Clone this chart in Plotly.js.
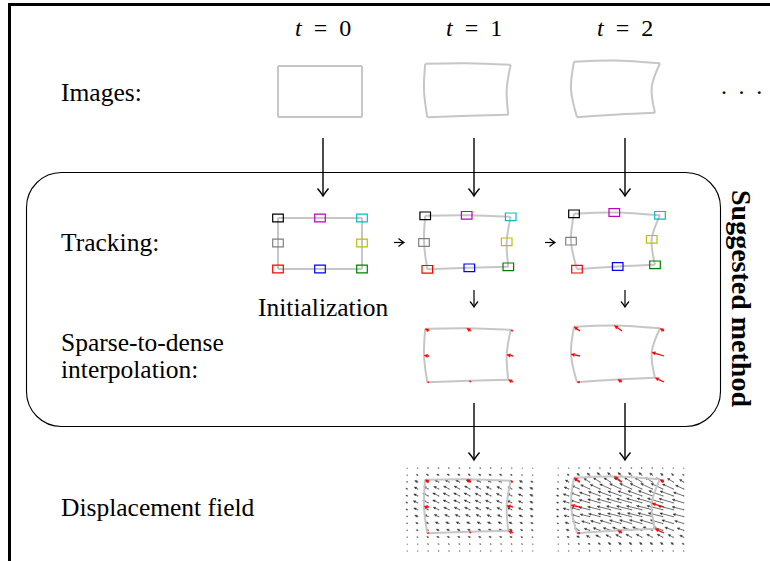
<!DOCTYPE html>
<html><head><meta charset="utf-8">
<script src="https://cdn.plot.ly/plotly-3.0.1.min.js"></script>
<style>html,body{margin:0;padding:0;background:#fff}#chart{width:770px;height:561px}</style>
</head><body><div id="chart"></div>
<script>
// ---------------- data ----------------
const timeLabels = ['t = 0', 't = 1', 't = 2'];
const rowLabels = ['Images:', 'Tracking:', 'Sparse-to-dense', 'interpolation:', 'Displacement field'];
const initLabel = 'Initialization';
const methodLabel = 'Suggested method';
// 8 tracked points (order: TL, TM, TR, MR, BR, BM, BL, ML), image px, relative to initial top-left corner
const pointColors = ['#000000', '#bf00bf', '#00bfbf', '#bfbf00', '#008000', '#0000ff', '#ff0000', '#808080'];
const frame0X = [0, 42, 84, 84, 84, 42, 0, 0];
const frame0Y = [0, 0, 0, 25, 51, 51, 51, 25];
const frame1X = [-3.8, 37.7, 81.7, 77.7, 79.3, 40.3, -1.7, -5.0];
const frame1Y = [-2.2, -2.7, -1.2, 23.8, 48.8, 49.8, 51.3, 24.5];
const frame2X = [-6.0, 34.3, 80.0, 71.7, 75.0, 37.7, -3.0, -9.0];
const frame2Y = [-4.2, -5.5, -2.7, 21.3, 46.8, 48.5, 51.2, 23.2];
// dense displacement field sample grid (image px)
const fieldCols = [-21.7, -11.3, -0.8, 9.7, 20.1, 30.6, 41.0, 51.5, 61.9, 72.4, 82.8, 93.3, 103.7];
const fieldRows = [-13.7, -6.8, 0.1, 7.0, 13.9, 20.8, 27.7, 34.6, 41.5, 48.4, 55.3, 62.2, 69.1];
// field at t = 1 (dx, dy in px, rows top->bottom, cols left->right)
const fieldDx1 = [
 [0,-.5,-1,-1,-1,-1,-1,-1,-1,-.5,-.5,0,0],
 [-.5,-1.5,-2,-2,-2,-2,-2,-2,-2,-2,-1.5,-1,-.5],
 [-1,-3,-3.5,-4,-4,-4,-4,-4,-3.5,-3.5,-3,-3,-2],
 [-1.5,-3.5,-4.5,-5,-5.5,-5.5,-5.5,-5,-4.5,-4.5,-4,-3.5,-3],
 [-1.5,-4,-5.5,-6,-6,-6,-6,-5.5,-5.5,-5,-4.5,-4,-3],
 [-1.5,-4.5,-5.5,-6,-6,-6,-6,-5.5,-5.5,-5,-4.5,-4,-3],
 [-1.5,-4,-5,-5.5,-5.5,-5.5,-5.5,-5,-5,-4.5,-4.5,-4,-3],
 [-1,-3,-4,-4.5,-4.5,-4.5,-4.5,-4.5,-4,-4,-4,-3.5,-2.5],
 [-1,-2,-3,-3.5,-3.5,-3.5,-3.5,-3.5,-3.5,-3.5,-3,-2.5,-2],
 [-.5,-1.5,-2,-2.5,-2.5,-2.5,-2.5,-2.5,-2.5,-2.5,-2.5,-2,-1.5],
 [-.5,-1,-1.5,-2,-2,-2,-2,-2,-2,-2,-2,-1.5,-1],
 [0,-.5,-1,-1,-1,-1,-1,-1,-1,-1,-1,-1,-.5],
 [0,0,-.5,-.5,-.5,-.5,-.5,-.5,-.5,-.5,-.5,0,0]
];
const fieldDy1 = [
 [0,-.3,-.5,-.5,-.5,-.5,-.5,-.5,-.5,-.3,-.3,0,0],
 [-.3,-.8,-1,-1.2,-1.2,-1.2,-1.2,-1.2,-1,-1,-.8,-.5,-.3],
 [-.5,-1.5,-2,-2.2,-2.2,-2.2,-2.2,-2.2,-2,-2,-1.8,-1.5,-1],
 [-.7,-2,-2.5,-2.7,-3,-3,-3,-2.7,-2.5,-2.5,-2.2,-2,-1.5],
 [-.7,-2,-2.7,-3,-3,-3,-3,-2.7,-2.7,-2.5,-2.3,-2,-1.5],
 [-.7,-2,-2.5,-2.8,-2.8,-2.8,-2.8,-2.6,-2.6,-2.4,-2.2,-2,-1.5],
 [-.6,-1.8,-2.2,-2.5,-2.5,-2.5,-2.5,-2.3,-2.3,-2.1,-2.1,-1.9,-1.5],
 [-.4,-1.4,-1.8,-2,-2,-2,-2,-2,-1.8,-1.8,-1.8,-1.6,-1.2],
 [-.4,-1,-1.4,-1.6,-1.6,-1.6,-1.6,-1.6,-1.6,-1.6,-1.4,-1.2,-1],
 [-.2,-.6,-1,-1.2,-1.2,-1.2,-1.2,-1.2,-1.2,-1.2,-1.2,-1,-.8],
 [-.2,-.4,-.6,-.8,-.8,-.8,-.8,-.8,-.8,-.8,-.8,-.6,-.4],
 [0,-.2,-.4,-.4,-.4,-.4,-.4,-.4,-.4,-.4,-.4,-.4,-.2],
 [0,0,-.2,-.2,-.2,-.2,-.2,-.2,-.2,-.2,-.2,0,0]
];
// field at t = 2
const fieldDx2 = [
 [0,-.4,-.8,-.8,-.8,-.8,-.8,-.8,-.8,-.8,-.4,-.4,0],
 [-.4,-1.5,-2.3,-2.7,-3.1,-3.1,-3.1,-3.1,-3.1,-2.7,-2.3,-1.9,-1.2],
 [-.8,-3.4,-5,-5.9,-6.7,-6.7,-7.1,-7.1,-7.1,-7.1,-6.7,-5.9,-4.2],
 [-1.4,-4.6,-7.3,-9.1,-10,-10.9,-11.4,-11.8,-11.8,-11.8,-11.8,-10.9,-8.2],
 [-1.9,-5.6,-8.5,-10.3,-11.8,-12.7,-13.2,-13.6,-14.1,-14.1,-14.1,-13.2,-10.3],
 [-1.9,-5.8,-8.6,-10.6,-12.5,-13.4,-14.4,-14.9,-15.4,-15.4,-15.4,-14.4,-11.5],
 [-1.9,-5.8,-8.7,-10.7,-12.6,-13.6,-14.6,-15,-15.5,-16,-16,-15,-11.6],
 [-1.9,-4.9,-7.8,-9.7,-11.6,-12.6,-13.6,-14.1,-14.6,-14.6,-14.6,-13.6,-10.7],
 [-1.4,-3.8,-6.7,-8.2,-9.6,-10.6,-11.5,-12,-12.5,-12.5,-12.5,-11.5,-9.1],
 [-.9,-2.8,-4.7,-5.6,-7,-7.5,-8.5,-8.9,-9.4,-9.4,-9.4,-8.5,-6.6],
 [-.9,-1.8,-2.6,-3.5,-4.4,-4.8,-5.3,-5.7,-5.7,-5.7,-5.7,-5.3,-4],
 [-.4,-.8,-1.2,-1.6,-2.1,-2.5,-2.5,-2.5,-2.5,-2.5,-2.5,-2.5,-1.6],
 [0,-.4,-.4,-.8,-.8,-.8,-.8,-.8,-.8,-.8,-.8,-.4,-.4]
];
const fieldDy2 = [
 [0,-.3,-.6,-.6,-.6,-.6,-.6,-.6,-.6,-.6,-.3,-.3,0],
 [-.3,-1.3,-1.9,-2.2,-2.6,-2.6,-2.6,-2.6,-2.6,-2.2,-1.9,-1.6,-1],
 [-.5,-2.2,-3.2,-3.8,-4.3,-4.3,-4.6,-4.6,-4.6,-4.6,-4.3,-3.8,-2.7],
 [-.6,-2.1,-3.4,-4.2,-4.6,-5,-5.3,-5.5,-5.5,-5.5,-5.5,-5,-3.8],
 [-.7,-2,-3.1,-3.7,-4.3,-4.6,-4.8,-4.9,-5.1,-5.1,-5.1,-4.8,-3.7],
 [-.6,-1.7,-2.5,-3.1,-3.6,-3.9,-4.2,-4.3,-4.5,-4.5,-4.5,-4.2,-3.4],
 [-.5,-1.4,-2.2,-2.6,-3.1,-3.4,-3.6,-3.7,-3.8,-4,-4,-3.7,-2.9],
 [-.5,-1.2,-1.9,-2.4,-2.9,-3.1,-3.4,-3.5,-3.6,-3.6,-3.6,-3.4,-2.6],
 [-.4,-1.1,-2,-2.4,-2.8,-3.1,-3.4,-3.5,-3.6,-3.6,-3.6,-3.4,-2.7],
 [-.3,-1,-1.7,-2,-2.6,-2.7,-3.1,-3.2,-3.4,-3.4,-3.4,-3.1,-2.4],
 [-.5,-.9,-1.4,-1.9,-2.4,-2.6,-2.8,-3.1,-3.1,-3.1,-3.1,-2.8,-2.1],
 [-.3,-.6,-.9,-1.1,-1.4,-1.7,-1.7,-1.7,-1.7,-1.7,-1.7,-1.7,-1.1],
 [0,-.3,-.3,-.6,-.6,-.6,-.6,-.6,-.6,-.6,-.6,-.3,-.3]
];

// ---------------- layout constants ----------------
const W = 770, H = 561;
const FONT = '"Liberation Serif", "Times New Roman", serif';
const frames = [[frame0X, frame0Y], [frame1X, frame1Y], [frame2X, frame2Y]];
const fields = {1: [fieldDx1, fieldDy1], 2: [fieldDx2, fieldDy2]};
const colX = [323, 474, 625];
const originX = [278, 429, 580];
const rowOriginY = {images: 66, tracking: 218, interp: 331, field: 482};
const panels = [
  {kind: 'images', f: 0}, {kind: 'images', f: 1}, {kind: 'images', f: 2},
  {kind: 'tracking', f: 0}, {kind: 'tracking', f: 1}, {kind: 'tracking', f: 2},
  {kind: 'interp', f: 1}, {kind: 'interp', f: 2},
  {kind: 'field', f: 1}, {kind: 'field', f: 2}
];
const PX = [-30, 115], PY = [-20, 75];   // panel extent: 1 unit = 1 px
const edges = [[0, 1, 2], [2, 3, 4], [4, 5, 6], [6, 7, 0]];

const traces = [{x: [0], y: [0], xaxis: 'x', yaxis: 'y', mode: 'markers', marker: {opacity: 0}, hoverinfo: 'skip'}];
const shapes = [];
const layout = {
  width: W, height: H, margin: {l: 0, r: 0, t: 0, b: 0},
  paper_bgcolor: '#ffffff', plot_bgcolor: 'rgba(0,0,0,0)', showlegend: false,
  xaxis: {range: [0, W], domain: [0, 1], visible: false, fixedrange: true},
  yaxis: {range: [H, 0], domain: [0, 1], visible: false, fixedrange: true}
};

// quiver-style arrows: shafts as lines, heads as small filled triangles
function arrowTraces(x0, y0, x1, y1, ax, color, width, headLen, headHalf) {
  const sx = [], sy = [], hx = [], hy = [];
  for (let i = 0; i < x0.length; i++) {
    const dx = x1[i] - x0[i], dy = y1[i] - y0[i], L = Math.hypot(dx, dy);
    if (L < 0.35) continue;
    const ux = dx / L, uy = dy / L;
    const hl = Math.min(headLen, 0.75 * L), hw = headHalf * hl / headLen;
    const bx = x1[i] - ux * hl, by = y1[i] - uy * hl;
    sx.push(x0[i], bx, null); sy.push(y0[i], by, null);
    hx.push(x1[i], bx - uy * hw, bx + uy * hw, x1[i], null);
    hy.push(y1[i], by + ux * hw, by - ux * hw, y1[i], null);
  }
  return [
    {x: sx, y: sy, xaxis: 'x' + ax, yaxis: 'y' + ax, mode: 'lines', hoverinfo: 'skip', line: {color: color, width: width}},
    {x: hx, y: hy, xaxis: 'x' + ax, yaxis: 'y' + ax, mode: 'lines', hoverinfo: 'skip', fill: 'toself', fillcolor: color,
      line: {color: color, width: 0.4}}
  ];
}

panels.forEach((p, k) => {
  const ax = k + 2;
  const ox = originX[p.f], oy = rowOriginY[p.kind];
  layout['xaxis' + ax] = {domain: [(ox + PX[0]) / W, (ox + PX[1]) / W], range: PX, visible: false, fixedrange: true, anchor: 'y' + ax};
  layout['yaxis' + ax] = {domain: [1 - (oy + PY[1]) / H, 1 - (oy + PY[0]) / H], range: [PY[1], PY[0]], visible: false, fixedrange: true, anchor: 'x' + ax};
  const [fx, fy] = frames[p.f];

  if (p.kind === 'field') {
    const [dX, dY] = fields[p.f];
    const tx = [], ty = [], hx = [], hy = [];
    fieldRows.forEach((ry, j) => fieldCols.forEach((cx, i) => {
      tx.push(cx); ty.push(ry); hx.push(cx + dX[j][i]); hy.push(ry + dY[j][i]);
    }));
    traces.push({x: tx, y: ty, xaxis: 'x' + ax, yaxis: 'y' + ax, mode: 'markers', hoverinfo: 'skip',
      marker: {size: 1.6, color: '#9a9a9a'}});
    arrowTraces(tx, ty, hx, hy, ax, '#303030', 0.7, 2.4, 1.1).forEach(t => traces.push(t));
  }

  // outline: each edge a smooth curve through corner - mid - corner
  const lx = [], ly = [];
  edges.forEach(e => { e.forEach(i => { lx.push(fx[i]); ly.push(fy[i]); }); lx.push(null); ly.push(null); });
  traces.push({x: lx, y: ly, xaxis: 'x' + ax, yaxis: 'y' + ax, mode: 'lines', hoverinfo: 'skip',
    line: {color: '#c6c6c6', width: 2, shape: 'spline', smoothing: 1}, connectgaps: false});

  if (p.kind === 'interp' || p.kind === 'field') {
    arrowTraces(frame0X, frame0Y, fx, fy, ax, '#ff0000', 1.3, 3.6, 1.7).forEach(t => traces.push(t));
  }
  if (p.kind === 'tracking') {
    fx.forEach((x, i) => shapes.push({type: 'rect', xref: 'x' + ax, yref: 'y' + ax,
      xsizemode: 'pixel', ysizemode: 'pixel', xanchor: x, yanchor: fy[i],
      x0: -5.3, x1: 5.3, y0: -3.8, y1: 3.8, line: {color: pointColors[i], width: 1.2}, fillcolor: 'rgba(0,0,0,0)'}));
  }
});

// frame border
shapes.push({type: 'line', xref: 'x', yref: 'y', x0: 8, x1: W, y0: 4.5, y1: 4.5, line: {color: '#000', width: 3}});
shapes.push({type: 'line', xref: 'x', yref: 'y', x0: 9.5, x1: 9.5, y0: 3, y1: H, line: {color: '#000', width: 3}});
// rounded box
(function () {
  const x0 = 26.5, x1 = 720.5, y0 = 172.5, y1 = 426.5, r = 35, k = 0.5523 * r;
  const d = `M${x0 + r},${y0} L${x1 - r},${y0} C${x1 - r + k},${y0} ${x1},${y0 + r - k} ${x1},${y0 + r} ` +
    `L${x1},${y1 - r} C${x1},${y1 - r + k} ${x1 - r + k},${y1} ${x1 - r},${y1} ` +
    `L${x0 + r},${y1} C${x0 + r - k},${y1} ${x0},${y1 - r + k} ${x0},${y1 - r} ` +
    `L${x0},${y0 + r} C${x0},${y0 + r - k} ${x0 + r - k},${y0} ${x0 + r},${y0} Z`;
  shapes.push({type: 'path', xref: 'x', yref: 'y', path: d, line: {color: '#000', width: 1.1}});
})();
// arrows
function vArrow(x, ya, yb, hw, hh, lw) {
  shapes.push({type: 'line', xref: 'x', yref: 'y', x0: x, x1: x, y0: ya, y1: yb - 0.5, line: {color: '#000', width: lw}});
  shapes.push({type: 'path', xref: 'x', yref: 'y', line: {color: '#000', width: lw},
    path: `M${x - hw},${yb - hh} Q${x - hw * 0.25},${yb - hh * 0.35} ${x},${yb} Q${x + hw * 0.25},${yb - hh * 0.35} ${x + hw},${yb - hh}`});
}
function hArrow(xa, xb, y, hw, hh, lw) {
  shapes.push({type: 'line', xref: 'x', yref: 'y', x0: xa, x1: xb - 0.5, y0: y, y1: y, line: {color: '#000', width: lw}});
  shapes.push({type: 'path', xref: 'x', yref: 'y', line: {color: '#000', width: lw},
    path: `M${xb - hh},${y - hw} Q${xb - hh * 0.35},${y - hw * 0.25} ${xb},${y} Q${xb - hh * 0.35},${y + hw * 0.25} ${xb - hh},${y + hw}`});
}
colX.forEach(x => vArrow(x, 138, 196, 5.5, 7.5, 1.4));
[colX[1], colX[2]].forEach(x => { vArrow(x, 290, 307, 4, 5.5, 1.2); vArrow(x, 403, 460, 5.5, 7.5, 1.4); });
hArrow(394, 404, 242.5, 4, 5.5, 1.2);
hArrow(545, 555, 242.5, 4, 5.5, 1.2);

// text
const ann = [];
const tf = {family: FONT, size: 25.5, color: '#000'};
function txt(t, x, y, xa, extra) {
  ann.push(Object.assign({text: t, x: x, y: y, xref: 'x', yref: 'y', xanchor: xa, yanchor: 'middle', showarrow: false, font: tf}, extra || {}));
}
timeLabels.forEach((t, i) => {
  const parts = t.split(' = ');
  txt('<i>' + parts[0] + '</i>\u2002=\u2002' + parts[1], colX[i], 28, 'center', {font: {family: FONT, size: 24, color: '#000'}});
});
txt(rowLabels[0], 59, 92, 'left');
txt(rowLabels[1], 59, 242, 'left');
txt(rowLabels[2], 59, 342, 'left');
txt(rowLabels[3], 59, 369, 'left');
txt(rowLabels[4], 59, 507, 'left');
txt(initLabel, colX[0], 307, 'center');
txt('·\u2009\u2009·\u2009\u2009·', 741, 92, 'center', {font: {family: FONT, size: 24, color: '#000'}});
txt('<b>' + methodLabel + '</b>', 742, 298, 'center', {textangle: 90, font: {family: FONT, size: 28, color: '#000'}});

layout.shapes = shapes;
layout.annotations = ann;
Plotly.newPlot('chart', traces, layout, {staticPlot: true, displayModeBar: false});
</script></body></html>
